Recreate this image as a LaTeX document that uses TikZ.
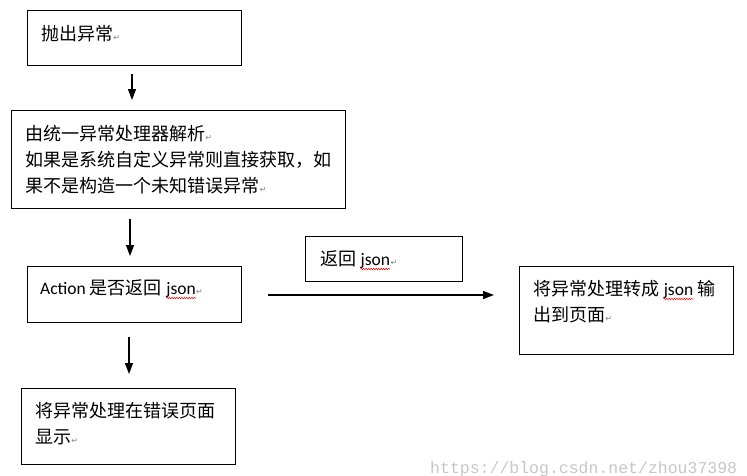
\documentclass[tikz,border=0pt]{standalone}
\usepackage{fontspec}
\setmainfont{Carlito}
\newfontfamily\cjk[Scale=1.03]{Noto Sans CJK SC}
\newfontfamily\retfont{DejaVu Sans}
\newfontfamily\wmfont{Liberation Mono}
\usetikzlibrary{arrows.meta,decorations.pathmorphing}
\newcommand\ret{{\retfont\fontsize{8}{8}\selectfont\textcolor{gray}{↵}}}
\begin{document}
\begin{tikzpicture}[x=1pt,y=-1pt,
  box/.style={draw,line width=1pt,inner sep=0,anchor=north west},
  txt/.style={anchor=base west,inner sep=0,font=\fontsize{17.5}{26}\selectfont},
  arr/.style={line width=1.3pt,-{Triangle[length=11pt,width=8pt]}},
  wave/.style={red,line width=0.5pt,decorate,decoration={snake,amplitude=0.8pt,segment length=2.5pt}}]
\useasboundingbox[fill=white] (0,0) rectangle (747,475);

% boxes
\node[box,minimum width=214pt,minimum height=55pt] (b1) at (27,9.5) {};
\node[box,minimum width=334pt,minimum height=98pt] (b2) at (11,110) {};
\node[box,minimum width=214pt,minimum height=56pt] (b3) at (27,266) {};
\node[box,minimum width=214pt,minimum height=76pt] (b4) at (21,388) {};
\node[box,minimum width=157pt,minimum height=45pt] (b5) at (305,236) {};
\node[box,minimum width=214pt,minimum height=88pt] (b6) at (519,266) {};

% texts
\node[txt] (t1) at (41,40) {\cjk 抛出异常\ret};
\node[txt] (t2a) at (25,140) {\cjk 由统一异常处理器解析\ret};
\node[txt] (t2b) at (25,166) {\cjk 如果是系统自定义异常则直接获取，如};
\node[txt] (t2c) at (25,192) {\cjk 果不是构造一个未知错误异常\ret};

\node[txt] (t3) at (40,294) {Action {\cjk 是否返回}};
\node[txt,xshift=4pt] (j3) at (t3.base east) {json};
\node[txt] (r3) at (j3.base east) {\ret};

\node[txt] (t4a) at (35,417) {\cjk 将异常处理在错误页面};
\node[txt] (t4b) at (35,443) {\cjk 显示\ret};

\node[txt] (t5) at (320,265) {\cjk 返回};
\node[txt,xshift=4pt] (j5) at (t5.base east) {json};
\node[txt] (r5) at (j5.base east) {\ret};

\node[txt] (t6a) at (533,295) {\cjk 将异常处理转成};
\node[txt,xshift=4pt] (j6) at (t6a.base east) {json};
\node[txt,xshift=4pt] (t6c) at (j6.base east) {\cjk 输};
\node[txt] (t6b) at (533,321) {\cjk 出到页面\ret};

% spell-check waves
\draw[wave] ([yshift=-4pt]j3.base west) -- ([yshift=-4pt]j3.base east);
\draw[wave] ([yshift=-4pt]j5.base west) -- ([yshift=-4pt]j5.base east);
\draw[wave] ([yshift=-4pt]j6.base west) -- ([yshift=-4pt]j6.base east);

% arrows
\coordinate (a1s) at (132,74);
\coordinate (a1e) at (132,100);
\coordinate (a2s) at (130,219);
\coordinate (a2e) at (130,256);
\coordinate (a3s) at (129,337);
\coordinate (a3e) at (129,374);
\coordinate (a4s) at (268,295);
\coordinate (a4e) at (494,295);
\draw[arr] (a1s) -- (a1e);
\draw[arr] (a2s) -- (a2e);
\draw[arr] (a3s) -- (a3e);
\draw[arr] (a4s) -- (a4e);

% watermark
\node[anchor=base west,inner sep=0,font=\wmfont\fontsize{16.5}{16.5}\selectfont,text=black!22] (wm) at (430,473) {https://blog.csdn.net/zhou37398};
\end{tikzpicture}
\end{document}
